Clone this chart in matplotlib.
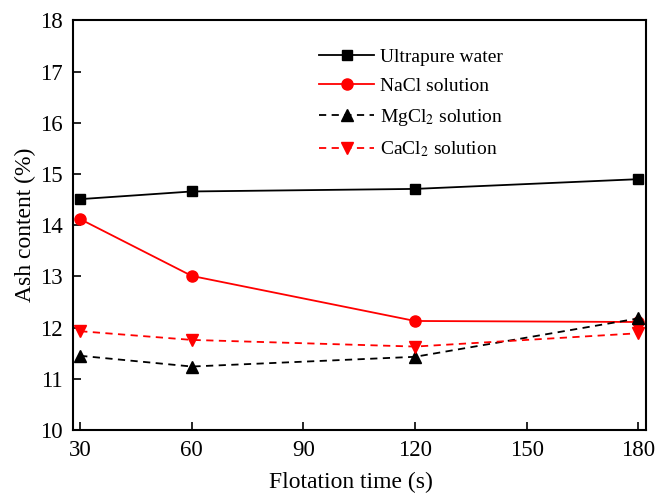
import numpy as np
import matplotlib.pyplot as plt

plt.rcParams['font.family'] = ['Liberation Serif', 'DejaVu Serif']
plt.rcParams['mathtext.fontset'] = 'stix'

# Flotation time (s)
time = [30, 60, 120, 180]

# Ash content (%)
ultrapure = [14.51, 14.66, 14.71, 14.90]
nacl = [14.12, 13.01, 12.13, 12.11]
mgcl2 = [11.45, 11.24, 11.43, 12.18]
cacl2 = [11.93, 11.76, 11.63, 11.89]

fig = plt.figure(figsize=(6.57, 4.95), dpi=100)
ax = fig.add_axes([0.1107, 0.1313, 0.8721, 0.8273])

ax.plot(time, ultrapure, color='black', ls='-', marker='s', ms=6.5, lw=1.3, label='Ultrapure water')
ax.plot(time, nacl, color='red', ls='-', marker='o', ms=8, lw=1.3, label='NaCl solution')
ax.plot(time, mgcl2, color='black', ls=(0, (4, 3)), marker='^', ms=8, lw=1.3, label='MgCl$_2$ solution')
ax.plot(time, cacl2, color='red', ls=(0, (4, 3)), marker='v', ms=8, lw=1.3, label='CaCl$_2$ solution')

ax.set_xlim(28, 182)
ax.set_ylim(10, 18)
ax.set_xticks([30, 60, 90, 120, 150, 180])
ax.set_yticks(np.arange(10, 19, 1))
ax.tick_params(direction='in', labelsize=16.5, length=6, width=1.2, top=False, right=False, pad=7)
for s in ax.spines.values():
    s.set_linewidth(1.5)

ax.set_xlabel('Flotation time (s)', fontsize=17, labelpad=8)
ax.xaxis.label.set_x(0.485)
ax.set_ylabel('Ash content (%)', fontsize=17, labelpad=3)

ax.legend(loc='upper left', bbox_to_anchor=(0.40, 0.975), frameon=False, fontsize=14,
          handlelength=2.8, labelspacing=0.6, handletextpad=0.3)

plt.savefig('out.png')
